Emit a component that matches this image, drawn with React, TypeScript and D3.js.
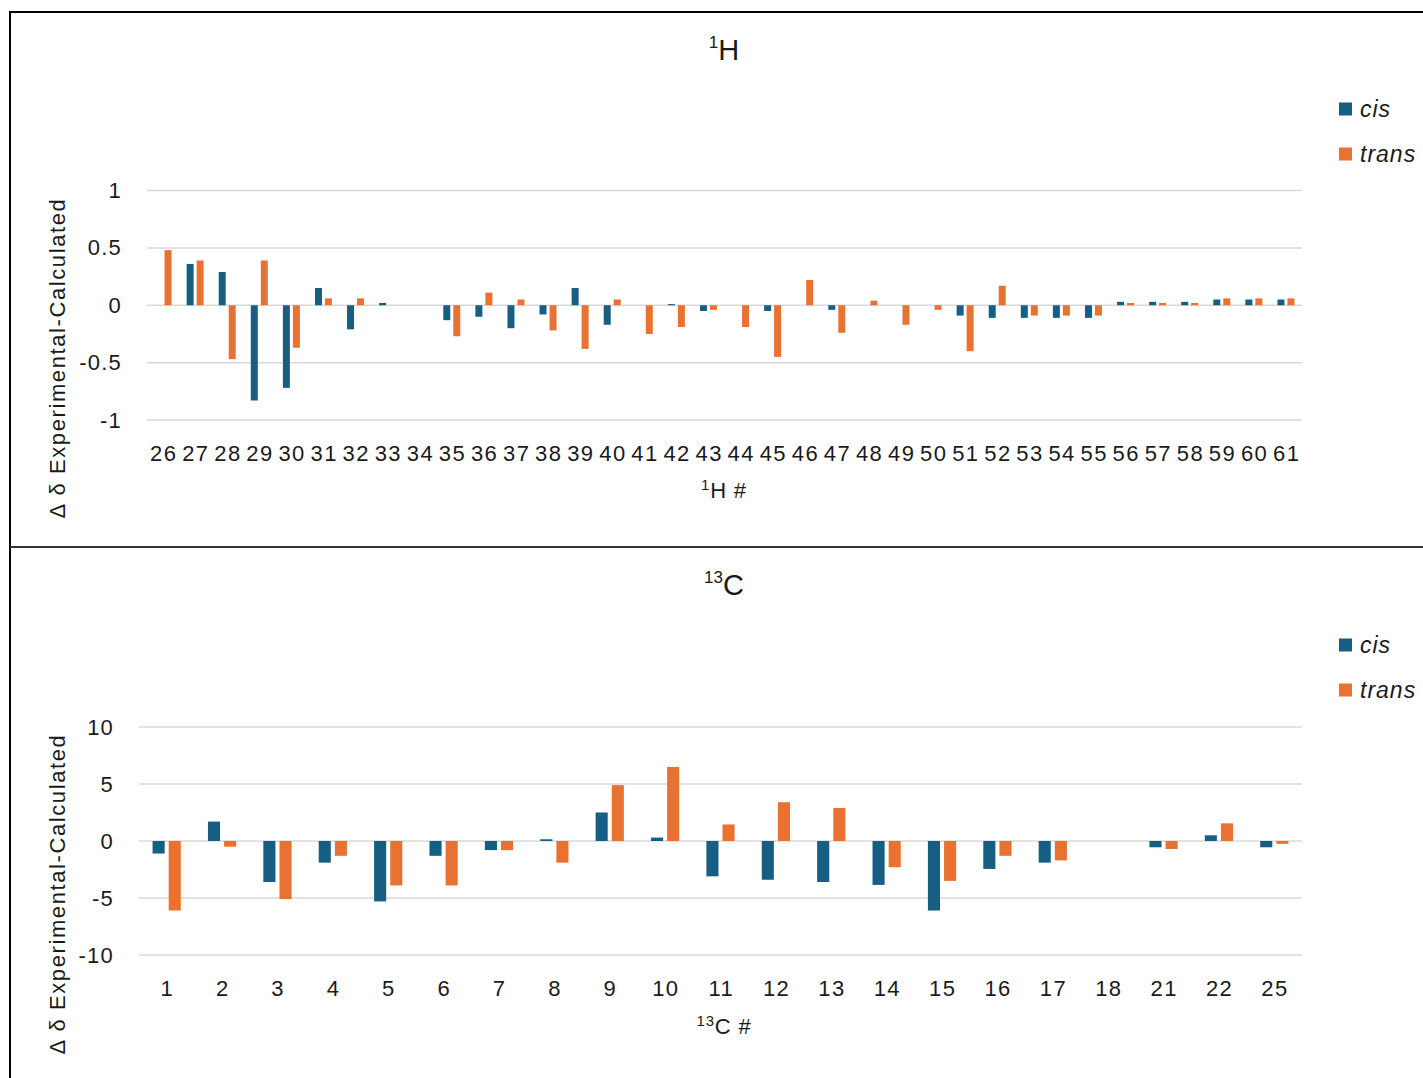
import React from "react";
import * as d3 from "d3";

const hCats = ["26","27","28","29","30","31","32","33","34","35","36","37","38","39","40","41","42","43","44","45","46","47","48","49","50","51","52","53","54","55","56","57","58","59","60","61"];
const hCis = [0, 0.36, 0.29, -0.83, -0.72, 0.15, -0.21, 0.02, 0, -0.13, -0.10, -0.20, -0.08, 0.15, -0.17, 0, 0.01, -0.05, 0, -0.05, 0, -0.04, 0, 0, 0, -0.09, -0.11, -0.11, -0.11, -0.11, 0.03, 0.03, 0.03, 0.05, 0.05, 0.05];
const hTrans = [0.48, 0.39, -0.47, 0.39, -0.37, 0.06, 0.06, 0, 0, -0.27, 0.11, 0.05, -0.22, -0.38, 0.05, -0.25, -0.19, -0.04, -0.19, -0.45, 0.22, -0.24, 0.04, -0.17, -0.04, -0.40, 0.17, -0.09, -0.09, -0.09, 0.02, 0.02, 0.02, 0.06, 0.06, 0.06];
const hTicks = [-1, -0.5, 0, 0.5, 1];

const cCats = ["1","2","3","4","5","6","7","8","9","10","11","12","13","14","15","16","17","18","21","22","25"];
const cCis = [-1.1, 1.7, -3.6, -1.9, -5.3, -1.3, -0.8, 0.15, 2.5, 0.3, -3.1, -3.4, -3.6, -3.85, -6.1, -2.45, -1.9, 0, -0.55, 0.5, -0.55];
const cTrans = [-6.1, -0.5, -5.1, -1.3, -3.9, -3.9, -0.8, -1.9, 4.9, 6.5, 1.45, 3.4, 2.9, -2.3, -3.5, -1.3, -1.7, 0, -0.7, 1.55, -0.25];
const cTicks = [-10, -5, 0, 5, 10];

const seriesNames = ["cis", "trans"];
const colors: Record<string, string> = { cis: "#175f82", trans: "#e97232" };
const FONT = "'Liberation Sans', Arial, sans-serif";
const TXT = "#1a1a1a";

type PanelProps = {
  cats: string[];
  cis: number[];
  trans: number[];
  ticks: number[];
  domain: [number, number];
  xRange: [number, number];
  yRange: [number, number];
  titleSup: string;
  titleMain: string;
  titleY: number;
  xLabelY: number;
  xTickY: number;
  yLabelY: number;
  legendY: number;
  group: number;
  pad: number;
};

function Panel(p: PanelProps) {
  const x = d3.scaleBand<string>().domain(p.cats).range(p.xRange).padding(0);
  const y = d3.scaleLinear().domain(p.domain).range(p.yRange);
  const bw = x.bandwidth();
  const gw = bw * p.group;
  const xs = d3.scaleBand<string>().domain(seriesNames).range([-gw / 2, gw / 2]).paddingInner(p.pad).paddingOuter(0);
  const vals: Record<string, number[]> = { cis: p.cis, trans: p.trans };
  return (
    <g>
      {p.ticks.map((t) => (
        <g key={t}>
          <line x1={p.xRange[0]} x2={p.xRange[1]} y1={y(t)} y2={y(t)} stroke="#d9d9d9" strokeWidth={1.5} />
          <text x={p.xRange[0] - 25} y={y(t)} textAnchor="end" dominantBaseline="central" fontSize={22} letterSpacing={1.2} fill={TXT} fontFamily={FONT}>{String(t)}</text>
        </g>
      ))}
      {seriesNames.map((s) =>
        p.cats.map((c, i) => {
          const v = vals[s][i];
          if (!v) return null;
          const x0 = (x(c) as number) + bw / 2 + (xs(s) as number);
          return (
            <rect key={s + c} x={x0} width={xs.bandwidth()} y={Math.min(y(v), y(0))} height={Math.abs(y(v) - y(0))} fill={colors[s]} />
          );
        })
      )}
      {p.cats.map((c) => (
        <text key={c} x={(x(c) as number) + bw / 2 + 0.7} y={p.xTickY} textAnchor="middle" dominantBaseline="central" fontSize={22} letterSpacing={1.4} fill={TXT} fontFamily={FONT}>{c}</text>
      ))}
      <text x={724} y={p.titleY} textAnchor="middle" dominantBaseline="central" fill={TXT} fontFamily={FONT}>
        <tspan fontSize={17} dy={-8}>{p.titleSup}</tspan>
        <tspan fontSize={29} dy={8}>{p.titleMain}</tspan>
      </text>
      <text x={724} y={p.xLabelY} textAnchor="middle" dominantBaseline="central" fill={TXT} fontFamily={FONT} letterSpacing={0.8}>
        <tspan fontSize={15} dy={-6}>{p.titleSup}</tspan>
        <tspan fontSize={22} dy={6}>{p.titleMain + " #"}</tspan>
      </text>
      <text transform={`translate(57,${p.yLabelY}) rotate(-90)`} textAnchor="middle" dominantBaseline="central" fontSize={22} letterSpacing={1.6} fill={TXT} fontFamily={FONT}>Δ δ Experimental-Calculated</text>
      {seriesNames.map((s, i) => (
        <g key={s}>
          <rect x={1339} y={p.legendY + i * 45 - 6.5} width={13} height={13} fill={colors[s]} />
          <text x={1360} y={p.legendY + i * 45} dominantBaseline="central" fontSize={23} letterSpacing={1} fontStyle="italic" fill={TXT} fontFamily={FONT}>{s}</text>
        </g>
      ))}
    </g>
  );
}

export default function App() {
  return (
    <div style={{ position: "fixed", left: 0, top: 0 }}>
      <svg width={1423} height={1078} style={{ display: "block", background: "#fff" }}>
        <rect x={0} y={0} width={1423} height={1078} fill="#fff" />
        <Panel
          cats={hCats} cis={hCis} trans={hTrans} ticks={hTicks} domain={[-1, 1]}
          xRange={[147, 1302]} yRange={[420, 190.5]}
          titleSup="1" titleMain="H" titleY={50} xLabelY={490} xTickY={453} yLabelY={358} legendY={109}
          group={0.53} pad={0.3}
        />
        <Panel
          cats={cCats} cis={cCis} trans={cTrans} ticks={cTicks} domain={[-10, 10]}
          xRange={[139, 1302]} yRange={[955, 727]}
          titleSup="13" titleMain="C" titleY={585} xLabelY={1026} xTickY={988.5} yLabelY={894} legendY={645}
          group={0.51} pad={0.25}
        />
        <line x1={9} x2={1423} y1={12} y2={12} stroke="#000" strokeWidth={2} />
        <line x1={10} x2={10} y1={11} y2={1078} stroke="#000" strokeWidth={2} />
        <line x1={10} x2={1423} y1={547} y2={547} stroke="#333" strokeWidth={2} />
      </svg>
    </div>
  );
}
